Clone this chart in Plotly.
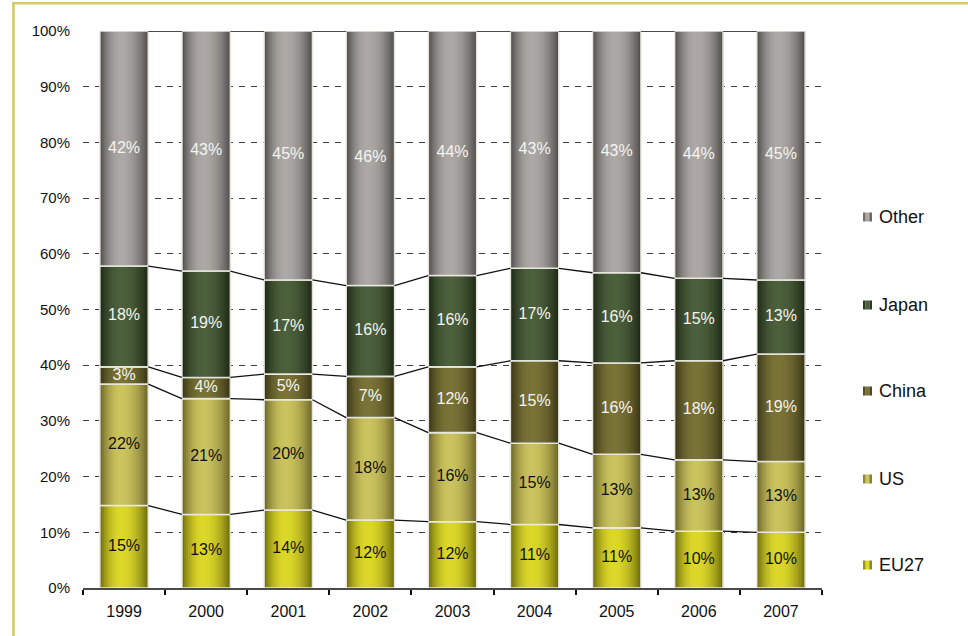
import numpy as np
import plotly.graph_objects as go

# Share of total by region, 1999-2007 (percent of each year's total)
years = ["1999", "2000", "2001", "2002", "2003", "2004", "2005", "2006", "2007"]
eu27 = [14.8, 13.2, 14.0, 12.2, 11.9, 11.4, 10.8, 10.2, 10.0]
us = [21.8, 20.8, 19.8, 18.4, 16.0, 14.6, 13.2, 12.8, 12.7]
china = [3.1, 3.8, 4.6, 7.4, 11.8, 14.8, 16.4, 17.8, 19.3]
japan = [18.1, 19.1, 16.9, 16.3, 16.4, 16.6, 16.2, 14.8, 13.3]
other = [42.2, 43.1, 44.7, 45.7, 43.9, 42.6, 43.4, 44.4, 44.7]

series_names = ["EU27", "US", "China", "Japan", "Other"]
series_values = [eu27, us, china, japan, other]

# cylinder shading: (edge colour, highlight colour), label colour
shading = {
    "EU27": ("#6a680c", "#dcd82a"),
    "US": ("#676126", "#cbc35e"),
    "China": ("#363316", "#7a7337"),
    "Japan": ("#1c2615", "#4c603c"),
    "Other": ("#4c4a48", "#aca8a5"),
}
label_colors = {"EU27": "#111111", "US": "#111111", "China": "#f4f4f0",
                "Japan": "#f4f4f0", "Other": "#f4f4f0"}

FONT = "Liberation Sans, Arial, sans-serif"

x = np.arange(len(years))
bar_w = 0.59
n_strips = 24


def hex_to_rgb(h):
    h = h.lstrip("#")
    return np.array([int(h[i:i + 2], 16) for i in (0, 2, 4)], dtype=float)


def shade(edge, light, t):
    # brightness profile across the bar, brightest slightly left of centre
    peak = 0.44
    d = (t - peak) / (peak if t < peak else 1 - peak)
    f = max(0.0, 1 - abs(d) ** 2.0)
    c = hex_to_rgb(edge) + (hex_to_rgb(light) - hex_to_rgb(edge)) * f
    return "rgb(%d,%d,%d)" % tuple(np.round(c))


fig = go.Figure()

bases = np.zeros(len(years))
tops_per_series = []
for name, vals in zip(series_names, series_values):
    vals = np.array(vals)
    edge, light = shading[name]
    # each strip runs from its own start to the right edge of the bar;
    # the next strip is painted over it, so there are no seams
    for k in range(n_strips):
        t = (k + 0.5) / n_strips
        start = -bar_w / 2 + k * bar_w / n_strips
        fig.add_trace(go.Bar(
            x=x, y=vals, base=bases,
            width=bar_w / 2 - start,
            offset=start,
            marker=dict(color=shade(edge, light, t), line=dict(width=0)),
            showlegend=False, hoverinfo="skip",
        ))
    # thin light outline around each segment
    fig.add_trace(go.Bar(
        x=x, y=vals, base=bases, width=bar_w, offset=-bar_w / 2,
        marker=dict(color="rgba(0,0,0,0)",
                    line=dict(color="rgba(236,236,228,0.95)", width=1.6)),
        showlegend=False, name=name,
        hovertemplate=name + " %{x}: %{y:.0f}%<extra></extra>",
    ))
    # percentage labels in the middle of each segment
    fig.add_trace(go.Scatter(
        x=x, y=bases + vals / 2, mode="text",
        text=[f"{v:.0f}%" for v in vals],
        textfont=dict(family=FONT, size=16, color=label_colors[name]),
        showlegend=False, hoverinfo="skip",
    ))
    bases = bases + vals
    tops_per_series.append(bases.copy())

# series lines joining the segment tops of neighbouring bars
for tops in tops_per_series:
    lx, ly = [], []
    for i in range(len(years) - 1):
        lx += [x[i] + bar_w / 2, x[i + 1] - bar_w / 2, None]
        ly += [tops[i], tops[i + 1], None]
    fig.add_trace(go.Scatter(x=lx, y=ly, mode="lines",
                             line=dict(color="#111111", width=1.3),
                             showlegend=False, hoverinfo="skip"))

# pixel geometry of the plotting area
W, H = 968, 636
L, R, T, B = 83, 146, 31, 48
pw, ph = W - L - R, H - T - B


def px_x(p):
    return (p - L) / pw


def px_y(p):
    return (H - B - p) / ph


shapes = []
annotations = []

# legend (Other on top, EU27 at the bottom)
legend_rows = {"Other": 217, "Japan": 305, "China": 391, "US": 479, "EU27": 565}
for name, yc in legend_rows.items():
    edge, light = shading[name]
    x0, size = 863, 9
    parts = [(0.0, 0.3, shade(edge, light, 0.1)),
             (0.3, 0.7, shade(edge, light, 0.45)),
             (0.7, 1.0, shade(edge, light, 0.9))]
    for a, b, col in parts:
        shapes.append(dict(type="rect", xref="paper", yref="paper",
                           x0=px_x(x0 + a * size), x1=px_x(x0 + b * size),
                           y0=px_y(yc + size / 2), y1=px_y(yc - size / 2),
                           fillcolor=col, line=dict(width=0), layer="above"))
    annotations.append(dict(xref="paper", yref="paper", x=px_x(877), y=px_y(yc),
                            xanchor="left", yanchor="middle", showarrow=False,
                            text=name,
                            font=dict(family=FONT, size=18, color="#111111")))

# olive frame along the left and top edges of the page
frame_col = "#d3cb69"
shapes.append(dict(type="line", xref="paper", yref="paper",
                   x0=px_x(13.5), x1=px_x(13.5), y0=px_y(3), y1=px_y(640),
                   line=dict(color=frame_col, width=2.6)))
shapes.append(dict(type="line", xref="paper", yref="paper",
                   x0=px_x(12.2), x1=px_x(975), y0=px_y(3.3), y1=px_y(3.3),
                   line=dict(color=frame_col, width=2.4)))

fig.update_layout(
    width=W, height=H,
    margin=dict(l=L, r=R, t=T, b=B, pad=0),
    barmode="overlay",
    plot_bgcolor="white", paper_bgcolor="white",
    showlegend=False,
    font=dict(family=FONT, size=15, color="#111111"),
    xaxis=dict(
        range=[-0.5, len(years) - 0.5],
        tickmode="array", tickvals=x, ticktext=years,
        ticks="", showgrid=False, zeroline=False,
        showline=True, linecolor="#4a4a4a", linewidth=1.5,
        tickfont=dict(size=16), ticklabelstandoff=8,
        minor=dict(tickmode="array", tickvals=list(np.arange(-0.5, len(years), 1.0)),
                   ticks="outside", ticklen=5, tickwidth=2, tickcolor="#111111",
                   showgrid=False),
    ),
    yaxis=dict(
        range=[0, 100], tickmode="array", tickvals=list(range(0, 101, 10)),
        ticktext=[f"{v}%" for v in range(0, 101, 10)],
        showgrid=True, gridcolor="#3a3a3a", gridwidth=1, griddash="6px,6px",
        zeroline=False, showline=False, ticks="",
        tickfont=dict(size=15), ticklabelstandoff=12,
    ),
    shapes=shapes,
    annotations=annotations,
)

fig.write_html("out.html")
